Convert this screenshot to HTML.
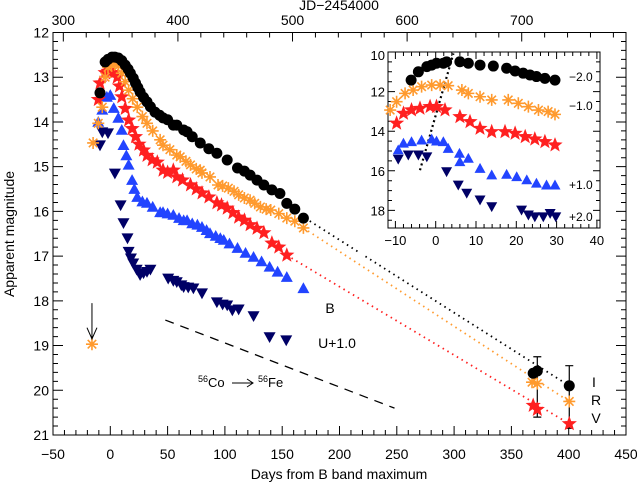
<!DOCTYPE html>
<html><head><meta charset="utf-8"><style>
body{margin:0;background:#fff;}
svg{display:block;font-family:"Liberation Sans",sans-serif;}
</style></head><body>
<svg id="c" width="637" height="484" viewBox="0 0 637 484"></svg>
<script>
// ---- main panel data (days from B max, magnitude) ----
const iDays=[-9,-4.5,-2,1.5,4,7,10,13,15.5,17.5,20,22,24,26,29,32,35,39,43,46,50,55,58,64,67,71.5,78.5,86,93,102,111,117,122,128,134,141,148,154,161,168.5,369,372.6,400.5];
const iMags=[13.35,12.66,12.6,12.55,12.55,12.57,12.63,12.73,12.82,12.91,13.02,13.13,13.23,13.33,13.45,13.55,13.66,13.78,13.85,13.91,13.95,14.07,14.07,14.18,14.22,14.33,14.47,14.6,14.7,14.85,15.03,15.1,15.19,15.3,15.41,15.52,15.6,15.82,15.95,16.15,19.62,19.57,19.9];
const rBandDays=[-16,-15,-10.5,-7,-4.5,-2,1,4,7,10,13,16,19.5,23.5,28,32,37,43.5,46,52,58,61,66,70,75,78.5,80,87,94,98,103,108,112,117,122,126,131,136,140,147,154,161,168.5,368,372.6,400.5];
const rMags=[18.97,14.47,14.03,13.67,13.0,12.78,12.72,12.69,12.75,12.91,13.1,13.29,13.48,13.67,13.88,14.03,14.2,14.4,14.52,14.62,14.74,14.78,14.88,14.96,15.05,15.08,15.14,15.23,15.41,15.43,15.48,15.55,15.63,15.7,15.75,15.82,15.9,15.95,15.97,16.05,16.15,16.22,16.37,19.82,19.85,20.25];
const vDays=[-10.5,-9,-4.5,-2,0,3,6,8,10,13,16,19,22,25,29,32,36.5,41,46,50,55,58,63,70,75,80,86,93,97,102,107,112,117,122,128,134,141,147,154,369,372.6,400.5];
const vMags=[13.5,13.13,12.9,12.87,12.84,12.9,13.0,13.2,13.44,13.7,13.96,14.15,14.33,14.5,14.63,14.75,14.85,14.9,15.08,15.13,15.08,15.23,15.3,15.41,15.5,15.59,15.68,15.81,15.86,15.93,16.03,16.13,16.2,16.3,16.38,16.48,16.71,16.8,16.98,20.34,20.43,20.75];
const bDays=[-10.5,-7,-3,0,3,7,10,11.5,14,16,19,21,23.5,28,32,37,43.5,46,50,55,60,64,67,71.5,76,80,84,87,92,96,99,104,111,118,125,132,139,146,154,168.5];
const bMags=[14.0,13.73,13.44,13.4,13.69,13.91,14.18,14.52,14.75,14.96,15.3,15.5,15.68,15.78,15.81,15.9,16.02,16.02,16.05,16.08,16.15,16.2,16.2,16.27,16.3,16.35,16.42,16.49,16.55,16.6,16.64,16.72,16.82,16.93,17.02,17.12,17.24,17.35,17.47,17.72];
const uDays=[-9,-7,-2,4,9,11.5,15,16,18,20,23,26,29,32,35,50.5,55,58,62,64,68,72.5,80,93,98,102,106.5,112,125,139,153.5];
const uMags=[14.52,14.23,14.25,15.15,15.86,16.26,16.6,16.9,17.05,17.16,17.3,17.42,17.38,17.35,17.3,17.5,17.55,17.58,17.65,17.69,17.7,17.72,17.83,18.03,18.08,18.1,18.21,18.19,18.34,18.81,18.88];
// late-time dotted connectors [day, mag]
const iTail=[170,16.15,400.5,19.9];
const rTail=[168.5,16.37,400.5,20.25];
const vTail=[154,16.98,400.5,20.75];
const coLine=[48,18.43,248,20.4];
const errDays=[372.6,400.5];
const errLo=[19.25,19.45];
const errHi=[20.6,20.85];
// ---- inset data ----
const inIDays=[-6.1,-4.3,-2.2,-1,0.2,1.9,2.7,6.0,8.1,11,14.3,17.6,19.7,21.7,23.4,25,27.1,29.6];
const inIMags=[11.42,11.0,10.74,10.66,10.57,10.57,10.5,10.49,10.57,10.66,10.71,10.82,10.96,11.07,11.16,11.24,11.33,11.42];
const inRDays=[-11.3,-9.7,-7.6,-5.6,-3.5,-1,1.1,3.1,6.5,8.1,11,13.9,18,20.5,23,25.5,27.9,29.6];
const inRMags=[12.93,12.51,12.09,11.92,11.75,11.67,11.67,11.7,11.92,12.09,12.26,12.42,12.42,12.59,12.76,12.93,13.01,13.15];
const inVDays=[-9.7,-8,-6,-3.9,-1.4,0.2,2.3,6,8.5,11,13.9,17.2,19.7,22.2,24.6,27.1,29.6];
const inVMags=[13.6,13.1,12.93,12.85,12.76,12.76,12.93,13.27,13.52,13.86,14.03,14.03,14.11,14.28,14.4,14.53,14.7];
const inBDays=[-9.3,-8,-6,-3.5,-1,0.2,1.9,3.1,5.9,6,8.1,11,13.9,17.6,20.1,22.6,25,27.5,29.6];
const inBMags=[14.95,14.61,14.53,14.45,14.4,14.5,14.53,14.87,15.12,15.54,15.37,15.88,16.21,16.18,16.3,16.46,16.63,16.72,16.72];
const inUDays=[-9.3,-6.8,-4.3,-2.2,2.7,5.6,7.7,11,13.9,21.3,23,24.6,26.7,28.4,29.8];
const inUMags=[15.41,15.2,15.2,15.29,16.04,16.72,17.13,17.47,17.81,17.98,18.23,18.32,18.32,18.15,18.32];
const inDotted=[-3.9,15.97,4.4,10.07];
const xTicks=[-50,0,50,100,150,200,250,300,350,400,450];
const yTicks=[12,13,14,15,16,17,18,19,20,21];
const jdTicks=[300,400,500,600,700];
const inXTicks=[-10,0,10,20,30,40];
const inYTicks=[10,12,14,16,18];

const NS="http://www.w3.org/2000/svg";
const svg=document.getElementById('c');
function el(tag,attrs,parent){const e=document.createElementNS(NS,tag);for(const k in attrs)e.setAttribute(k,attrs[k]);(parent||svg).appendChild(e);return e;}
// main axes
const L=53,R=626,T=32.5,B=435;
const X=d=>L+(d+50)*(R-L)/500;
const Y=m=>T+(m-12)*(B-T)/9;
const JDOFF=341;
// inset axes
const iL=388,iR=600,iT=52,iB=228;
const IX=d=>435.7+4.03*d;
const IY=m=>91.6+19.8*(m-12);

function circle(g,x,y,r,c){return el('circle',{cx:x,cy:y,r:r,fill:c},g);}
function star(g,x,y,r,c){let p=[];for(let i=0;i<10;i++){const a=-Math.PI/2+i*Math.PI/5;const rr=i%2?r*0.42:r;p.push((x+rr*Math.cos(a)).toFixed(1)+','+(y+rr*Math.sin(a)).toFixed(1));}return el('polygon',{points:p.join(' '),fill:c},g);}
function aster(g,x,y,r,c){let d='';for(let i=0;i<4;i++){const a=i*Math.PI/4;d+=`M${x-r*Math.cos(a)},${y-r*Math.sin(a)}L${x+r*Math.cos(a)},${y+r*Math.sin(a)}`;}return el('path',{d:d,stroke:c,'stroke-width':1.6,fill:'none'},g);}
function tri(g,x,y,r,c,down){const s=down?-1:1;return el('polygon',{points:`${x},${y-s*r} ${x-r},${y+s*r*0.8} ${x+r},${y+s*r*0.8}`,fill:c},g);}

function series(name,days,mags,fx,fy,kind,c,r){
  const g=el('g',{});
  
  
  for(let i=0;i<days.length;i++){
    const x=fx(days[i]),y=fy(mags[i]);
    let m;
    if(kind==='c')m=circle(g,x,y,r,c);
    else if(kind==='s')m=star(g,x,y,r,c);
    else if(kind==='a')m=aster(g,x,y,r,c);
    else if(kind==='t')m=tri(g,x,y,r,c,false);
    else m=tri(g,x,y,r,c,true);
    
    
  }
}
function line(name,a,fx,fy,c,dash,w){
  const l=el('line',{x1:fx(a[0]),y1:fy(a[1]),x2:fx(a[2]),y2:fy(a[3]),stroke:c,'stroke-width':w||1.5,'stroke-dasharray':dash});
  
  
}
function text(name,x,y,s,size,anchor,parent){
  const t=el('text',{x:x,y:y,'font-size':size||14,'text-anchor':anchor||'middle',fill:'#000'},parent);
  t.textContent=s;
  
  
  return t;
}

// frame
const fr=el('rect',{x:L,y:T,width:R-L,height:B-T,fill:'none',stroke:'#000','stroke-width':1});


// ticks main
let tk='';
for(let d=-50;d<=450;d+=10){const x=X(d),len=d%50===0?9:5;tk+=`M${x},${B}v${-len}`;}
for(let jd=300;jd<=780;jd+=20){const x=X(jd-JDOFF);if(x<L||x>R)continue;const len=jd%100===0?9:5;tk+=`M${x},${T}v${len}`;}
for(let m=12;m<=21.001;m+=0.2){const y=Y(m),len=Math.abs(m-Math.round(m))<0.01?10:5;tk+=`M${L},${y}h${len}M${R},${y}h${-len}`;}
const tp=el('path',{d:tk,stroke:'#000','stroke-width':1,fill:'none'});


xTicks.forEach(v=>text('x-tick-label',X(v),459,String(v).replace('-','\u2212'),14));
yTicks.forEach(v=>text('y-tick-label',L-4,Y(v)+5,String(v),14,'end'));
jdTicks.forEach(v=>text('jd-tick-label',X(v-JDOFF),25,String(v),14));
text('top-axis-title',339,10,'JD\u22122454000',14);
text('x-axis-title',339,479,'Days from B band maximum',14);
const yt=text('y-axis-title',0,0,'Apparent magnitude',14);
yt.setAttribute('transform','translate(14,234) rotate(-90)');

// dotted tails & lines
line('i-late-connector',iTail,X,Y,'#000','1.5 4',1.8);
line('r-late-connector',rTail,X,Y,'#ff9a2e','1.5 4',1.8);
line('v-late-connector',vTail,X,Y,'#ff2020','1.5 4',1.8);
line('co-decay-line',coLine,X,Y,'#000','9 7',1.3);
// error bars
for(let i=0;i<errDays.length;i++){
  const x=X(errDays[i]);
  const e=el('path',{d:`M${x},${Y(errLo[i])}V${Y(errHi[i])}M${x-4},${Y(errLo[i])}h8M${x-4},${Y(errHi[i])}h8`,stroke:'#000','stroke-width':1.2,fill:'none'});
  
  
}
series('u-band-series',uDays,uMags,X,Y,'d','#000066',6);
series('b-band-series',bDays,bMags,X,Y,'t','#2244ff',6);
series('v-band-series',vDays,vMags,X,Y,'s','#ff2020',8);
series('r-band-series',rBandDays,rMags,X,Y,'a','#ff9a2e',6);
series('i-band-series',iDays,iMags,X,Y,'c','#000',5.5);
// upper-limit arrow
const ar=el('path',{d:`M${X(-16)},${Y(18.05)}V${Y(18.85)}M${X(-16)-5},${Y(18.6)}L${X(-16)},${Y(18.85)}L${X(-16)+5},${Y(18.6)}`,stroke:'#000','stroke-width':1,fill:'none'});


text('b-label',330,313,'B',14);
text('u-label',337,348,'U+1.0',14);
text('i-label',594,387,'I',14);
text('r-label',596,405,'R',14);
text('v-label',596,423,'V',14);
const co=text('decay-label',198,387,'',13,'start');
co.innerHTML='<tspan font-size="9" dy="-5">56</tspan><tspan dy="5">Co</tspan>';
const ca=el('path',{d:'M232,383H253M247,379L253,383L247,387',stroke:'#000','stroke-width':1,fill:'none'});


const fe=text('decay-label-fe',258,387,'',13,'start');
fe.innerHTML='<tspan font-size="9" dy="-5">56</tspan><tspan dy="5">Fe</tspan>';

// ---- inset ----
const ig=el('g',{});


el('rect',{x:iL-30,y:iT-8,width:iR-iL+45,height:iB-iT+35,fill:'#fff'},ig);
el('rect',{x:iL,y:iT,width:iR-iL,height:iB-iT,fill:'none',stroke:'#000','stroke-width':1},ig);
let it='';
for(let d=-12;d<=40;d+=2){const x=IX(d);if(x<iL||x>iR)continue;const len=d%10===0?7:4;it+=`M${x},${iB}v${-len}M${x},${iT}v${len}`;}
for(let m=10;m<=18.9;m+=0.5){const y=IY(m);if(y<iT-0.5)continue;const len=m%2===0?7:4;it+=`M${iL},${y}h${len}M${iR},${y}h${-len}`;}
el('path',{d:it,stroke:'#000','stroke-width':1,fill:'none'},ig);
inXTicks.forEach(v=>text('inset-x-tick-label',IX(v),245,String(v).replace('-','\u2212'),13,'middle',ig));
inYTicks.forEach(v=>text('inset-y-tick-label',iL-3,Math.max(IY(v),iT+3)+5,String(v),13,'end',ig));
line('inset-peak-trend',inDotted,IX,IY,'#000','2 3',2.2);
series('inset-u-series',inUDays,inUMags,IX,IY,'d','#000066',5.5);
series('inset-b-series',inBDays,inBMags,IX,IY,'t','#2244ff',5.5);
series('inset-v-series',inVDays,inVMags,IX,IY,'s','#ff2020',8);
series('inset-r-series',inRDays,inRMags,IX,IY,'a','#ff9a2e',6);
series('inset-i-series',inIDays,inIMags,IX,IY,'c','#000',5.5);
text('inset-i-offset',569,81,'\u22122.0',12,'start');
text('inset-r-offset',569,110,'\u22121.0',12,'start');
text('inset-b-offset',569,189,'+1.0',12,'start');
text('inset-u-offset',569,221,'+2.0',12,'start');
</script>
</body></html>
